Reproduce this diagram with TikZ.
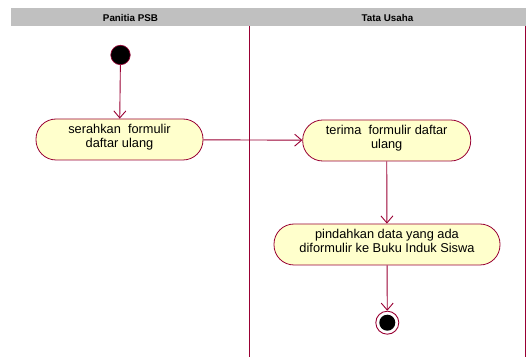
\documentclass[tikz,border=0pt]{standalone}
\usepackage{fontspec}
\setmainfont{Liberation Sans}
\usetikzlibrary{arrows.meta}
\definecolor{umlred}{HTML}{990033}
\definecolor{actfill}{HTML}{FFFFCC}
\definecolor{lanehead}{HTML}{C0C0C0}
\begin{document}
\begin{tikzpicture}[x=1pt,y=-1pt,
  lanetitle/.style={font=\fontsize{9.8}{11}\selectfont\bfseries, text=black},
  activity/.style={draw=umlred, fill=actfill, line width=0.8pt, rounded corners=20pt,
    minimum width=#1, minimum height=41pt, align=center, inner sep=0pt,
    text depth=7pt, font=\fontsize{12.8}{14}\selectfont},
  flow/.style={draw=umlred, line width=0.9pt, -{Straight Barb[length=7pt,width=12pt,line width=0.9pt]}},
  lane/.style={draw=umlred, line width=0.9pt}
]
\useasboundingbox (0,0) rectangle (531,358);
% swimlane header and separators
\fill[lanehead] (11,8) rectangle (526,26);
\node[lanetitle] (h1) at (130.5,17.5) {Panitia PSB};
\node[lanetitle] (h2) at (387.5,17.5) {Tata Usaha};
\draw[lane] (249,26) -- (249,357);
\draw[lane] (525.5,26) -- (525.5,357);
% nodes
\node[circle, fill=black, draw=umlred, line width=0.6pt, minimum size=19.5pt, inner sep=0pt] (start) at (120.5,55) {};
\node[activity=167pt] (a1) at (119.5,139.5) {serahkan\ \ formulir\\daftar ulang};
\node[activity=168pt] (a2) at (386.7,140.5) {terima\ \ formulir daftar\\ulang};
\node[activity=226pt] (a3) at (387,244.5) {pindahkan data yang ada\\diformulir ke Buku Induk Siswa};
\node[circle, draw=umlred, fill=white, line width=0.9pt, minimum size=23pt, inner sep=0pt] (stop) at (387.3,322.7) {};
\node[circle, fill=black, minimum size=16pt, inner sep=0pt] (stopdot) at (stop.center) {};
% transitions
\draw[flow] (start) -- (a1);
\draw[flow] (a1) -- (a2);
\draw[flow] (a2) -- (a3);
\draw[flow] (a3) -- (stop);
\end{tikzpicture}
\end{document}
